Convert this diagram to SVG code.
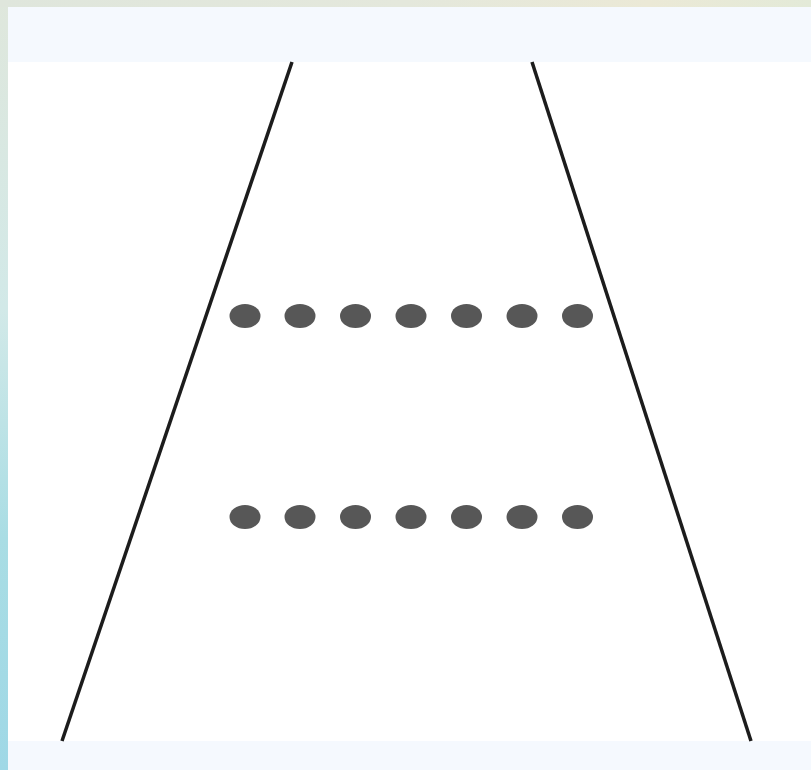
<svg xmlns="http://www.w3.org/2000/svg" width="811" height="770" viewBox="0 0 811 770">
  <defs>
    <linearGradient id="edgeV" x1="0" y1="0" x2="0" y2="1">
      <stop offset="0" stop-color="#dfe7dc"/>
      <stop offset="0.4" stop-color="#d2e9e8"/>
      <stop offset="0.7" stop-color="#a9dde4"/>
      <stop offset="1" stop-color="#9fd8e6"/>
    </linearGradient>
    <linearGradient id="edgeH" x1="0" y1="0" x2="1" y2="0">
      <stop offset="0" stop-color="#dfe6dc"/>
      <stop offset="0.5" stop-color="#e4e8dc"/>
      <stop offset="0.8" stop-color="#ebe9d6"/>
      <stop offset="1" stop-color="#e3ead8"/>
    </linearGradient>
    <style>
      .dot { fill: #575757; }
      .edge { stroke: #1c1c1c; stroke-width: 3.5; fill: none; stroke-linecap: butt; }
    </style>
  </defs>
  <rect x="0" y="0" width="811" height="770" fill="url(#edgeV)"/>
  <rect x="0" y="0" width="811" height="7" fill="url(#edgeH)"/>
  <rect x="8" y="7" width="803" height="763" fill="#ffffff"/>
  <rect x="8" y="7" width="803" height="55" fill="#f5f9fe"/>
  <rect x="8" y="741" width="803" height="29" fill="#f5f9fe"/>
  <g id="connectors">
    <line class="edge" x1="292" y1="62" x2="62" y2="741"/>
    <line class="edge" x1="532" y1="62" x2="751" y2="741"/>
  </g>
  <g id="row1">
    <ellipse class="dot" cx="245" cy="316" rx="15.5" ry="12"/>
    <ellipse class="dot" cx="300" cy="316" rx="15.5" ry="12"/>
    <ellipse class="dot" cx="355.5" cy="316" rx="15.5" ry="12"/>
    <ellipse class="dot" cx="411" cy="316" rx="15.5" ry="12"/>
    <ellipse class="dot" cx="466.5" cy="316" rx="15.5" ry="12"/>
    <ellipse class="dot" cx="522" cy="316" rx="15.5" ry="12"/>
    <ellipse class="dot" cx="577.5" cy="316" rx="15.5" ry="12"/>
  </g>
  <g id="row2">
    <ellipse class="dot" cx="245" cy="517" rx="15.5" ry="12"/>
    <ellipse class="dot" cx="300" cy="517" rx="15.5" ry="12"/>
    <ellipse class="dot" cx="355.5" cy="517" rx="15.5" ry="12"/>
    <ellipse class="dot" cx="411" cy="517" rx="15.5" ry="12"/>
    <ellipse class="dot" cx="466.5" cy="517" rx="15.5" ry="12"/>
    <ellipse class="dot" cx="522" cy="517" rx="15.5" ry="12"/>
    <ellipse class="dot" cx="577.5" cy="517" rx="15.5" ry="12"/>
  </g>
</svg>
